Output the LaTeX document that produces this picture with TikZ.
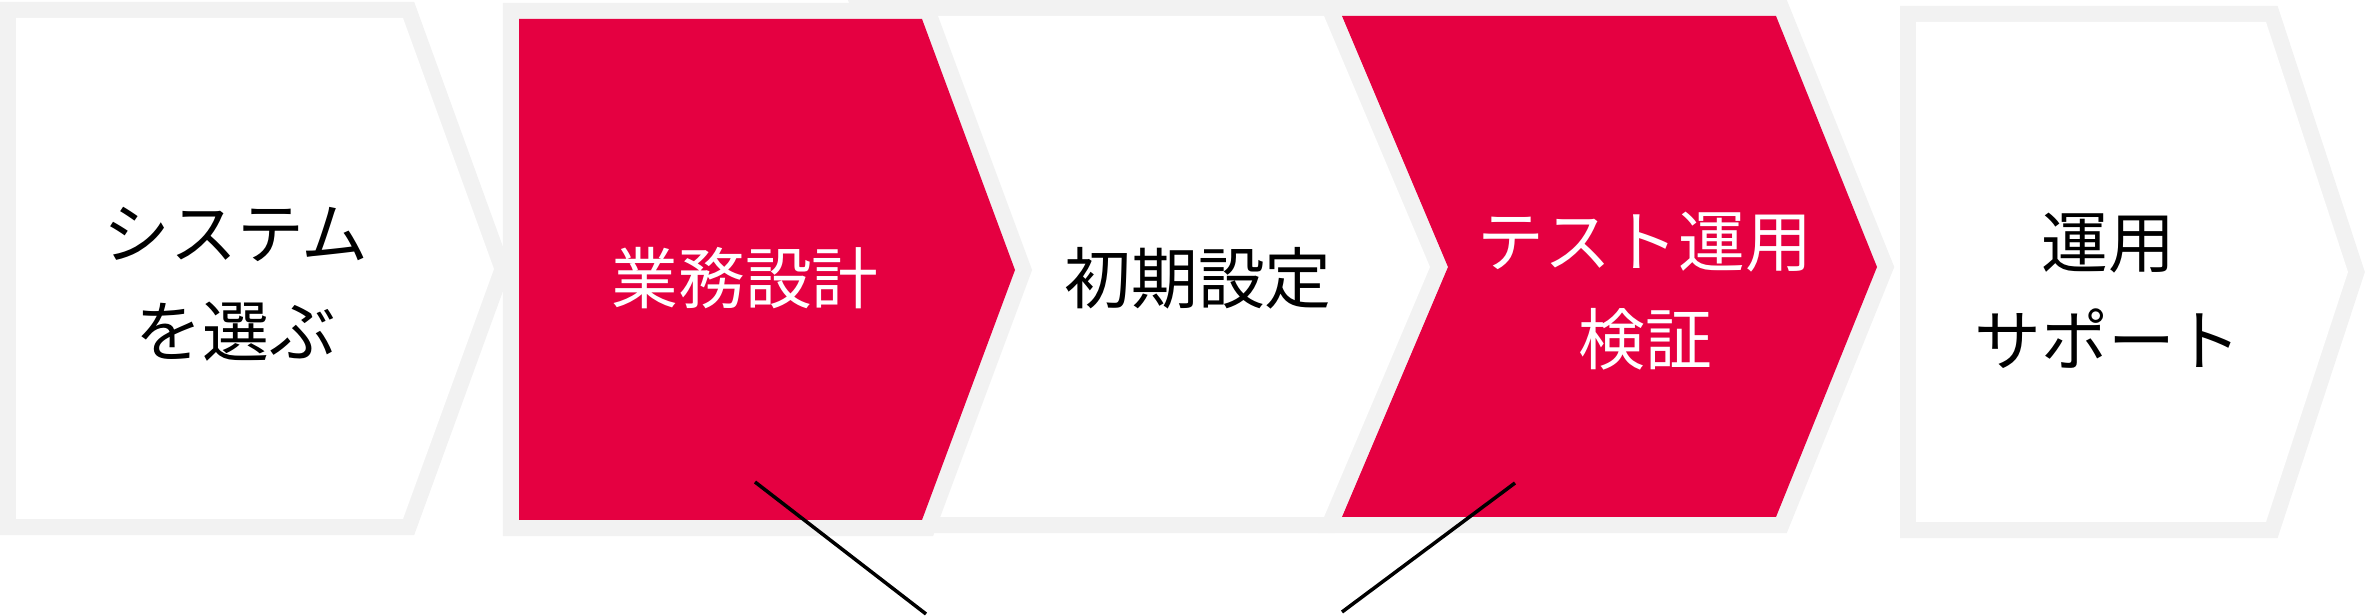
\documentclass[tikz,border=0pt]{standalone}
\usepackage{fontspec}
\newfontfamily\jpfont{Noto Sans CJK JP}
\usetikzlibrary{positioning}
\definecolor{stepred}{HTML}{E50041}
\definecolor{framegray}{HTML}{F2F2F2}

\begin{document}
\begin{tikzpicture}[x=0.01cm, y=-0.01cm,
    stepframe/.style={preaction={draw=framegray, line width=0.32cm, miter limit=2}},
    whitestep/.style={stepframe, fill=white},
    redstep/.style={stepframe, fill=stepred},
    steptext/.style={font=\jpfont\fontsize{19pt}{27.9pt}\selectfont, align=center}]
    \useasboundingbox (0,0) rectangle (2365,616);
    % Steps (3 lies under 2, 4 under 3)
    \path[whitestep] (16,18) -- (403,18) -- (494,269) -- (403,519) -- (16,519) -- cycle;
    \path[redstep] (1342,16) -- (1776,16) -- (1877,267) -- (1776,517) -- (1342,517) -- (1448,267) -- cycle;
    \path[whitestep] (871,16) -- (1324,16) -- (1430,267) -- (1324,517) -- (871,517) -- (965,267) -- cycle;
    \path[redstep] (519,19) -- (922,19) -- (1015,270) -- (922,520) -- (519,520) -- cycle;
    \path[whitestep] (1916,22) -- (2266,22) -- (2348,272) -- (2266,522) -- (1916,522) -- cycle;
    % Labels
    \node (select) [steptext] at (236,284) {システム\\を選ぶ};
    \node (design) [steptext, text=white] at (745,278) {業務設計};
    \node (setup) [steptext] at (1198,278) {初期設定};
    \node (testrun) [steptext, text=white] at (1645,291) {テスト運用\\検証};
    \node (support) [steptext] at (2108,291) {運用\\サポート};
    % Callout lines
    \coordinate (designpin) at (755,482);
    \coordinate (designout) at (926,614);
    \coordinate (testpin) at (1515,483);
    \coordinate (testout) at (1342,612);
    \draw [line width=0.035cm] (designpin) -- (designout);
    \draw [line width=0.035cm] (testpin) -- (testout);
\end{tikzpicture}
\end{document}
